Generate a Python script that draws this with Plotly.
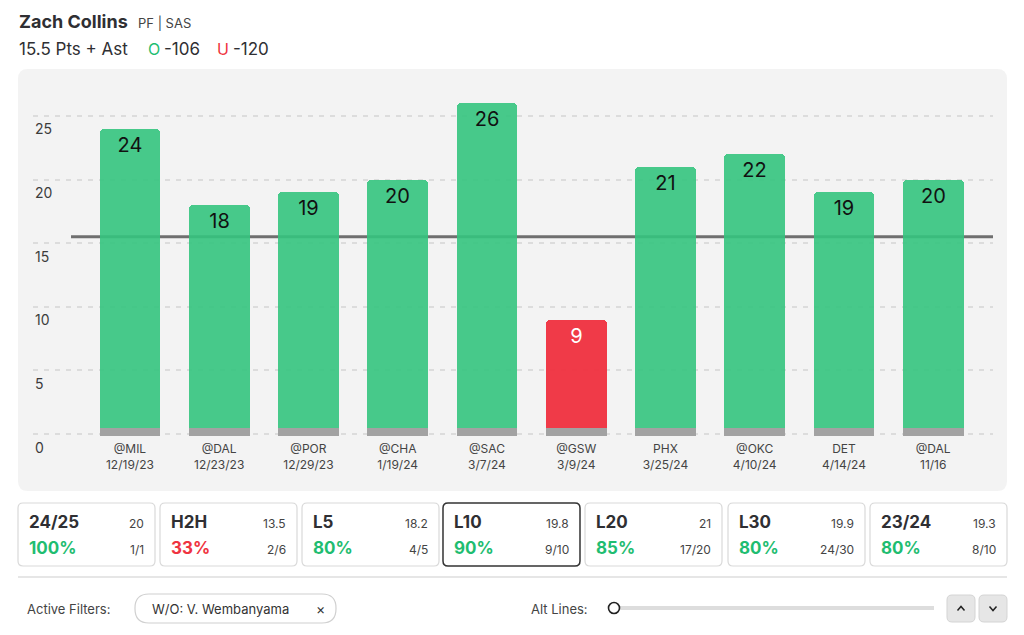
import plotly.graph_objects as go

# ---------------- data ----------------
opponents = ["@MIL", "@DAL", "@POR", "@CHA", "@SAC", "@GSW", "PHX", "@OKC", "DET", "@DAL"]
dates = ["12/19/23", "12/23/23", "12/29/23", "1/19/24", "3/7/24", "3/9/24", "3/25/24", "4/10/24", "4/14/24", "11/16"]
values = [24, 18, 19, 20, 26, 9, 21, 22, 19, 20]
prop_line = 15.5
y_ticks = [0, 5, 10, 15, 20, 25]

card_titles = ["24/25", "H2H", "L5", "L10", "L20", "L30", "23/24"]
card_avgs = ["20", "13.5", "18.2", "19.8", "21", "19.9", "19.3"]
card_pcts = ["100%", "33%", "80%", "90%", "85%", "80%", "80%"]
card_fracs = ["1/1", "2/6", "4/5", "9/10", "17/20", "24/30", "8/10"]
selected_card = "L10"

player = "Zach Collins"
player_info = "PF | SAS"
market = "15.5 Pts + Ast"
over_odds = "-106"
under_odds = "-120"

# ---------------- styling / geometry ----------------
FONT = "Inter"
GREEN_BAR = "rgba(52,196,126,0.90)"
RED_BAR = "rgba(239,52,66,0.97)"
GREEN_TXT = "#1fbd71"
RED_TXT = "#ef3340"
DARK = "#2f2f33"

OFF = 8  # default page body margin
FIG_W, FIG_H = 1024 - 2 * OFF, 635 - 2 * OFF
PL, PT, W, H = 33, 90, 960, 350  # plot area in window pixels
L = PL - OFF
T = PT - OFF
R = FIG_W - L - W
B = FIG_H - T - H
X_RANGE = [-1.086, 9.67]
Y_RANGE = [-0.472, 27.04]


def xp(px):
    return (px - PL) / W


def yp(py):
    return (PT + H - py) / H


def rrect(x0, y0, x1, y1, r):
    pts = [
        ("M", x0 + r, y0), ("L", x1 - r, y0), ("Q", x1, y0, x1, y0 + r),
        ("L", x1, y1 - r), ("Q", x1, y1, x1 - r, y1), ("L", x0 + r, y1),
        ("Q", x0, y1, x0, y1 - r), ("L", x0, y0 + r), ("Q", x0, y0, x0 + r, y0),
    ]
    s = ""
    for p in pts:
        cmd = p[0]
        coords = p[1:]
        parts = []
        for i in range(0, len(coords), 2):
            parts.append(f"{xp(coords[i]):.5f},{yp(coords[i+1]):.5f}")
        s += cmd + " " + " ".join(parts) + " "
    return s + "Z"


x_idx = list(range(len(values)))
bar_colors = [GREEN_BAR if v > prop_line else RED_BAR for v in values]
text_colors = ["#111111" if v > prop_line else "#ffffff" for v in values]

fig = go.Figure()

fig.add_trace(go.Bar(
    x=x_idx, y=values, base=0, width=0.68,
    marker=dict(color=bar_colors, cornerradius=4, line=dict(width=0)),
    text=[str(v) for v in values], textposition="inside", insidetextanchor="end",
    textangle=0, constraintext="none",
    textfont=dict(family=FONT, size=20, color=text_colors),
    hoverinfo="skip", showlegend=False,
))
fig.add_trace(go.Bar(
    x=x_idx, y=[0.62] * len(values), base=-0.15, width=0.68,
    marker=dict(color="#a2a2a2", line=dict(width=0)),
    hoverinfo="skip", showlegend=False,
))

shapes = []
annotations = []

# panel background
shapes.append(dict(type="path", xref="paper", yref="paper", path=rrect(18, 69, 1007, 491, 10),
                   fillcolor="#f3f3f3", line=dict(width=0), layer="below"))
# prop line
shapes.append(dict(type="line", xref="x", yref="y", x0=X_RANGE[0] + 0.426, x1=X_RANGE[1],
                   y0=prop_line, y1=prop_line, line=dict(color="#6f6f6f", width=3), layer="between"))

# y tick labels (placed slightly under gridlines)
for t in y_ticks:
    annotations.append(dict(xref="paper", yref="y", x=0, y=t, text=str(t), showarrow=False,
                            xanchor="left", yanchor="middle", yshift=-13,
                            font=dict(family=FONT, size=14, color="#3c3c3c")))

# header
annotations.append(dict(xref="paper", yref="paper", x=xp(17), y=yp(22), text=f"<b>{player}</b>",
                        showarrow=False, xanchor="left", yanchor="middle",
                        font=dict(family=FONT, size=18, color=DARK)))
annotations.append(dict(xref="paper", yref="paper", x=xp(136), y=yp(23), text=player_info,
                        showarrow=False, xanchor="left", yanchor="middle",
                        font=dict(family=FONT, size=13, color="#444444")))
annotations.append(dict(xref="paper", yref="paper", x=xp(17), y=yp(49), text=market,
                        showarrow=False, xanchor="left", yanchor="middle",
                        font=dict(family=FONT, size=17, color=DARK)))
annotations.append(dict(xref="paper", yref="paper", x=xp(146), y=yp(49), text="O",
                        showarrow=False, xanchor="left", yanchor="middle",
                        font=dict(family=FONT, size=16, color=GREEN_TXT)))
annotations.append(dict(xref="paper", yref="paper", x=xp(162), y=yp(49), text=over_odds,
                        showarrow=False, xanchor="left", yanchor="middle",
                        font=dict(family=FONT, size=17, color=DARK)))
annotations.append(dict(xref="paper", yref="paper", x=xp(215), y=yp(49), text="U",
                        showarrow=False, xanchor="left", yanchor="middle",
                        font=dict(family=FONT, size=16, color=RED_TXT)))
annotations.append(dict(xref="paper", yref="paper", x=xp(231), y=yp(49), text=under_odds,
                        showarrow=False, xanchor="left", yanchor="middle",
                        font=dict(family=FONT, size=17, color=DARK)))

# stat cards
card_x0 = [18, 160, 302, 443, 585, 728, 870]
card_w = 137
for i, title in enumerate(card_titles):
    x0 = card_x0[i]
    x1 = x0 + card_w
    sel = title == selected_card
    shapes.append(dict(type="path", xref="paper", yref="paper", path=rrect(x0, 503, x1, 566, 5),
                       fillcolor="white",
                       line=dict(color="#333333" if sel else "#d9d9d9", width=1.5 if sel else 1.2)))
    pct_color = RED_TXT if int(card_pcts[i].rstrip("%")) < 50 else GREEN_TXT
    annotations += [
        dict(xref="paper", yref="paper", x=xp(x0 + 9), y=yp(522), text=f"<b>{title}</b>",
             showarrow=False, xanchor="left", yanchor="middle",
             font=dict(family=FONT, size=17, color=DARK)),
        dict(xref="paper", yref="paper", x=xp(x1 - 9), y=yp(523), text=card_avgs[i],
             showarrow=False, xanchor="right", yanchor="middle",
             font=dict(family=FONT, size=12, color="#444444")),
        dict(xref="paper", yref="paper", x=xp(x0 + 9), y=yp(548), text=f"<b>{card_pcts[i]}</b>",
             showarrow=False, xanchor="left", yanchor="middle",
             font=dict(family=FONT, size=17, color=pct_color)),
        dict(xref="paper", yref="paper", x=xp(x1 - 9), y=yp(549), text=card_fracs[i],
             showarrow=False, xanchor="right", yanchor="middle",
             font=dict(family=FONT, size=12, color="#444444")),
    ]

# separator
shapes.append(dict(type="line", xref="paper", yref="paper", x0=xp(18), x1=xp(1007), y0=yp(577), y1=yp(577),
                   line=dict(color="#e6e6e6", width=2)))

# filters row
annotations.append(dict(xref="paper", yref="paper", x=xp(25), y=yp(609), text="Active Filters:",
                        showarrow=False, xanchor="left", yanchor="middle",
                        font=dict(family=FONT, size=13, color="#444444")))
shapes.append(dict(type="path", xref="paper", yref="paper", path=rrect(135, 594, 336, 623, 14),
                   fillcolor="white", line=dict(color="#d0d0d0", width=1.2)))
annotations.append(dict(xref="paper", yref="paper", x=xp(150), y=yp(609), text="W/O: V. Wembanyama",
                        showarrow=False, xanchor="left", yanchor="middle",
                        font=dict(family=FONT, size=13, color="#333333")))
annotations.append(dict(xref="paper", yref="paper", x=xp(320), y=yp(608), text="×",
                        showarrow=False, xanchor="center", yanchor="middle",
                        font=dict(family=FONT, size=14, color="#333333")))
annotations.append(dict(xref="paper", yref="paper", x=xp(590), y=yp(609), text="Alt Lines:",
                        showarrow=False, xanchor="right", yanchor="middle",
                        font=dict(family=FONT, size=13, color="#444444")))
# slider
shapes.append(dict(type="line", xref="paper", yref="paper", x0=xp(619), x1=xp(934), y0=yp(608), y1=yp(608),
                   line=dict(color="#dddddd", width=4)))
shapes.append(dict(type="circle", xref="paper", yref="paper", x0=xp(608.5), x1=xp(619.5),
                   y0=yp(613.5), y1=yp(602.5), fillcolor="white", line=dict(color="#222222", width=1.6)))
# buttons
for bx0, bx1, up in [(947, 975, True), (979, 1007, False)]:
    shapes.append(dict(type="path", xref="paper", yref="paper", path=rrect(bx0, 595, bx1, 622, 5),
                       fillcolor="#e6e6e6", line=dict(color="#d4d4d4", width=1)))
    cx = (bx0 + bx1) / 2
    cy = 608.5
    if up:
        p = f"M {xp(cx-3.5):.5f},{yp(cy+2):.5f} L {xp(cx):.5f},{yp(cy-2):.5f} L {xp(cx+3.5):.5f},{yp(cy+2):.5f}"
    else:
        p = f"M {xp(cx-3.5):.5f},{yp(cy-2):.5f} L {xp(cx):.5f},{yp(cy+2):.5f} L {xp(cx+3.5):.5f},{yp(cy-2):.5f}"
    shapes.append(dict(type="path", xref="paper", yref="paper", path=p, line=dict(color="#222222", width=1.5)))

fig.update_layout(
    width=FIG_W, height=FIG_H,
    margin=dict(l=L, r=R, t=T, b=B, pad=0),
    paper_bgcolor="white", plot_bgcolor="rgba(0,0,0,0)",
    barmode="overlay", bargap=0,
    showlegend=False,
    font=dict(family=FONT),
    xaxis=dict(range=X_RANGE, tickmode="array", tickvals=x_idx,
               ticktext=[f"{o}<br>{d}" for o, d in zip(opponents, dates)],
               tickfont=dict(family=FONT, size=12, color="#444444"),
               showgrid=False, zeroline=False, showline=False, ticks="", fixedrange=True),
    yaxis=dict(range=Y_RANGE, tickmode="array", tickvals=y_ticks, showticklabels=False,
               showgrid=True, gridcolor="#dcdcdc", gridwidth=1.5, griddash="5px,6px",
               zeroline=False, showline=False, ticks="", fixedrange=True),
    shapes=shapes, annotations=annotations,
)

fig.write_html("out.html")
